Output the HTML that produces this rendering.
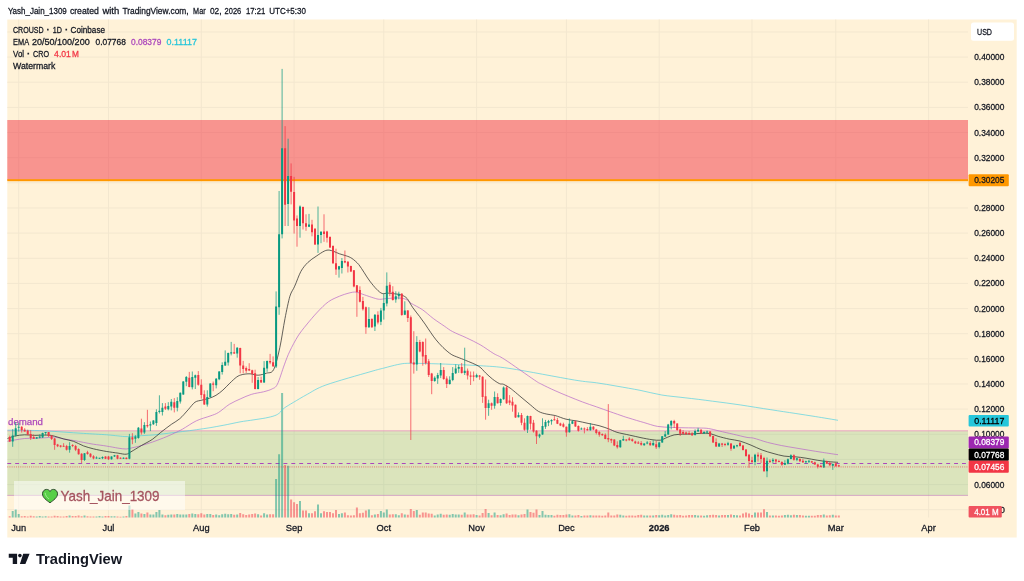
<!DOCTYPE html>
<html lang="en"><head><meta charset="utf-8"><title>CROUSD chart</title>
<style>html,body{margin:0;padding:0;background:#fff;overflow:hidden}svg{display:block}</style>
</head><body>
<svg width="1024" height="581" viewBox="0 0 1024 581" font-family="'Liberation Sans', sans-serif">
<rect x="0" y="0" width="1024" height="581" fill="#ffffff"/>
<rect x="7.3" y="19.5" width="1009.4000000000001" height="518.0" fill="#fff2d8"/>
<path d="M7.3 32.0H968 M7.3 57.1H968 M7.3 82.2H968 M7.3 107.4H968 M7.3 132.5H968 M7.3 157.7H968 M7.3 182.8H968 M7.3 208.0H968 M7.3 233.1H968 M7.3 258.3H968 M7.3 283.4H968 M7.3 308.6H968 M7.3 333.7H968 M7.3 358.8H968 M7.3 384.0H968 M7.3 409.1H968 M7.3 434.3H968 M7.3 459.4H968 M7.3 484.6H968 M7.3 509.7H968 M18.7 19.5V517.5 M108.5 19.5V517.5 M201.3 19.5V517.5 M294.1 19.5V517.5 M383.8 19.5V517.5 M476.6 19.5V517.5 M566.4 19.5V517.5 M659.2 19.5V517.5 M752.0 19.5V517.5 M835.8 19.5V517.5 M928.6 19.5V517.5" stroke="#f3e7cf" stroke-width="1" fill="none"/>
<rect x="7.3" y="120.0" width="960.7" height="60.3" fill="#f23645" fill-opacity="0.5"/>
<rect x="7.3" y="179.2" width="960.7" height="2" fill="#ff9800"/>
<rect x="7.3" y="430.7" width="960.7" height="64.7" fill="#4caf50" fill-opacity="0.2"/>
<path d="M7.3 430.7H968" stroke="#e89cc0" stroke-opacity="0.6" stroke-width="1.4" fill="none"/>
<path d="M7.3 495.4H968" stroke="#c47ac0" stroke-opacity="0.6" stroke-width="1" fill="none"/>
<path d="M7.3 463.5H968" stroke="#ab47bc" stroke-width="1.15" stroke-dasharray="3.9 3.99" fill="none"/>
<text x="8" y="425.3" font-size="9.6" fill="#ab47bc" stroke="#ab47bc" stroke-width="0.25" textLength="35" lengthAdjust="spacingAndGlyphs">demand</text>
<path d="M11.7 517.5V511.0H13.7V517.5ZM14.7 517.5V509.0H16.7V517.5ZM17.7 517.5V514.0H19.7V517.5ZM35.7 517.5V516.6H37.7V517.5ZM38.7 517.5V516.1H40.7V517.5ZM41.6 517.5V516.5H43.6V517.5ZM44.6 517.5V516.3H46.6V517.5ZM68.6 517.5V515.4H70.6V517.5ZM83.5 517.5V515.6H85.5V517.5ZM95.5 517.5V516.4H97.5V517.5ZM98.5 517.5V516.0H100.5V517.5ZM101.5 517.5V516.5H103.5V517.5ZM110.5 517.5V516.3H112.5V517.5ZM113.5 517.5V516.2H115.5V517.5ZM122.5 517.5V516.5H124.5V517.5ZM128.4 517.5V505.5H130.4V517.5ZM134.4 517.5V513.5H136.4V517.5ZM137.4 517.5V512.0H139.4V517.5ZM143.4 517.5V514.0H145.4V517.5ZM149.4 517.5V514.5H151.4V517.5ZM152.4 517.5V514.5H154.4V517.5ZM155.4 517.5V512.0H157.4V517.5ZM158.4 517.5V510.0H160.4V517.5ZM161.4 517.5V514.5H163.4V517.5ZM167.3 517.5V514.8H169.3V517.5ZM170.3 517.5V514.5H172.3V517.5ZM176.3 517.5V513.9H178.3V517.5ZM179.3 517.5V514.4H181.3V517.5ZM182.3 517.5V514.5H184.3V517.5ZM185.3 517.5V514.6H187.3V517.5ZM191.3 517.5V513.4H193.3V517.5ZM194.3 517.5V514.0H196.3V517.5ZM206.3 517.5V514.0H208.3V517.5ZM209.3 517.5V513.9H211.3V517.5ZM215.2 517.5V514.6H217.2V517.5ZM218.2 517.5V515.2H220.2V517.5ZM221.2 517.5V514.2H223.2V517.5ZM224.2 517.5V513.8H226.2V517.5ZM227.2 517.5V514.3H229.2V517.5ZM230.2 517.5V513.9H232.2V517.5ZM236.2 517.5V514.4H238.2V517.5ZM257.1 517.5V514.2H259.1V517.5ZM263.1 517.5V513.2H265.1V517.5ZM266.1 517.5V514.4H268.1V517.5ZM275.1 517.5V479.0H277.1V517.5ZM278.1 517.5V454.2H280.1V517.5ZM281.1 517.5V393.1H283.1V517.5ZM287.1 517.5V465.8H289.1V517.5ZM299.0 517.5V501.1H301.0V517.5ZM308.0 517.5V513.2H310.0V517.5ZM317.0 517.5V504.6H319.0V517.5ZM320.0 517.5V513.2H322.0V517.5ZM338.0 517.5V514.0H340.0V517.5ZM340.9 517.5V513.2H342.9V517.5ZM367.9 517.5V509.5H369.9V517.5ZM373.9 517.5V514.5H375.9V517.5ZM379.9 517.5V511.0H381.9V517.5ZM382.8 517.5V512.5H384.8V517.5ZM385.8 517.5V509.5H387.8V517.5ZM394.8 517.5V514.3H396.8V517.5ZM397.8 517.5V515.3H399.8V517.5ZM403.8 517.5V514.5H405.8V517.5ZM415.8 517.5V510.1H417.8V517.5ZM433.7 517.5V515.4H435.7V517.5ZM436.7 517.5V514.6H438.7V517.5ZM439.7 517.5V513.7H441.7V517.5ZM448.7 517.5V514.8H450.7V517.5ZM451.7 517.5V513.9H453.7V517.5ZM454.7 517.5V514.4H456.7V517.5ZM457.7 517.5V514.5H459.7V517.5ZM463.7 517.5V512.5H465.7V517.5ZM475.6 517.5V514.9H477.6V517.5ZM487.6 517.5V513.0H489.6V517.5ZM493.6 517.5V512.5H495.6V517.5ZM499.6 517.5V515.2H501.6V517.5ZM502.6 517.5V514.3H504.6V517.5ZM517.5 517.5V515.3H519.5V517.5ZM526.5 517.5V509.5H528.5V517.5ZM538.5 517.5V515.1H540.5V517.5ZM541.5 517.5V511.0H543.5V517.5ZM544.5 517.5V514.8H546.5V517.5ZM547.5 517.5V515.0H549.5V517.5ZM550.5 517.5V515.0H552.5V517.5ZM568.4 517.5V514.3H570.4V517.5ZM571.4 517.5V515.4H573.4V517.5ZM580.4 517.5V515.9H582.4V517.5ZM589.4 517.5V515.2H591.4V517.5ZM619.3 517.5V514.8H621.3V517.5ZM622.3 517.5V515.5H624.3V517.5ZM643.2 517.5V515.5H645.2V517.5ZM646.2 517.5V515.4H648.2V517.5ZM652.2 517.5V515.5H654.2V517.5ZM658.2 517.5V515.2H660.2V517.5ZM661.2 517.5V514.7H663.2V517.5ZM664.2 517.5V515.4H666.2V517.5ZM667.2 517.5V515.0H669.2V517.5ZM670.2 517.5V514.3H672.2V517.5ZM694.1 517.5V514.9H696.1V517.5ZM697.1 517.5V515.5H699.1V517.5ZM703.1 517.5V515.7H705.1V517.5ZM706.1 517.5V515.2H708.1V517.5ZM718.1 517.5V515.5H720.1V517.5ZM727.0 517.5V515.0H729.0V517.5ZM733.0 517.5V515.1H735.0V517.5ZM736.0 517.5V515.3H738.0V517.5ZM754.0 517.5V512.5H756.0V517.5ZM766.0 517.5V511.9H768.0V517.5ZM771.9 517.5V515.6H773.9V517.5ZM783.9 517.5V515.0H785.9V517.5ZM786.9 517.5V514.7H788.9V517.5ZM789.9 517.5V515.3H791.9V517.5ZM795.9 517.5V514.9H797.9V517.5ZM804.9 517.5V515.7H806.9V517.5ZM807.9 517.5V515.7H809.9V517.5ZM822.8 517.5V514.4H824.8V517.5ZM831.8 517.5V514.8H833.8V517.5Z" fill="#089981" fill-opacity="0.5"/>
<path d="M8.7 517.5V516.2H10.7V517.5ZM20.7 517.5V516.3H22.7V517.5ZM23.7 517.5V516.0H25.7V517.5ZM26.7 517.5V516.5H28.7V517.5ZM29.7 517.5V515.8H31.7V517.5ZM32.7 517.5V516.2H34.7V517.5ZM47.6 517.5V516.5H49.6V517.5ZM50.6 517.5V516.5H52.6V517.5ZM53.6 517.5V515.8H55.6V517.5ZM56.6 517.5V515.9H58.6V517.5ZM59.6 517.5V516.6H61.6V517.5ZM62.6 517.5V516.4H64.6V517.5ZM65.6 517.5V516.0H67.6V517.5ZM71.6 517.5V516.1H73.6V517.5ZM74.6 517.5V516.1H76.6V517.5ZM77.6 517.5V515.6H79.6V517.5ZM80.6 517.5V516.3H82.6V517.5ZM86.5 517.5V516.3H88.5V517.5ZM89.5 517.5V516.4H91.5V517.5ZM92.5 517.5V516.5H94.5V517.5ZM104.5 517.5V516.1H106.5V517.5ZM107.5 517.5V516.0H109.5V517.5ZM116.5 517.5V516.5H118.5V517.5ZM119.5 517.5V516.7H121.5V517.5ZM125.4 517.5V516.1H127.4V517.5ZM131.4 517.5V509.0H133.4V517.5ZM140.4 517.5V513.5H142.4V517.5ZM146.4 517.5V512.5H148.4V517.5ZM164.4 517.5V515.2H166.4V517.5ZM173.3 517.5V514.4H175.3V517.5ZM188.3 517.5V514.0H190.3V517.5ZM197.3 517.5V514.3H199.3V517.5ZM200.3 517.5V513.2H202.3V517.5ZM203.3 517.5V514.5H205.3V517.5ZM212.2 517.5V515.0H214.2V517.5ZM233.2 517.5V514.8H235.2V517.5ZM239.2 517.5V513.1H241.2V517.5ZM242.2 517.5V514.3H244.2V517.5ZM245.2 517.5V515.1H247.2V517.5ZM248.2 517.5V514.6H250.2V517.5ZM251.2 517.5V513.9H253.2V517.5ZM254.1 517.5V513.6H256.1V517.5ZM260.1 517.5V515.5H262.1V517.5ZM269.1 517.5V514.2H271.1V517.5ZM272.1 517.5V514.3H274.1V517.5ZM284.1 517.5V465.1H286.1V517.5ZM290.1 517.5V499.5H292.1V517.5ZM293.1 517.5V502.3H295.1V517.5ZM296.0 517.5V503.9H298.0V517.5ZM302.0 517.5V510.5H304.0V517.5ZM305.0 517.5V510.5H307.0V517.5ZM311.0 517.5V513.2H313.0V517.5ZM314.0 517.5V511.2H316.0V517.5ZM323.0 517.5V511.2H325.0V517.5ZM326.0 517.5V512.0H328.0V517.5ZM329.0 517.5V512.0H331.0V517.5ZM332.0 517.5V513.2H334.0V517.5ZM335.0 517.5V510.0H337.0V517.5ZM343.9 517.5V512.5H345.9V517.5ZM346.9 517.5V515.2H348.9V517.5ZM349.9 517.5V515.5H351.9V517.5ZM352.9 517.5V515.2H354.9V517.5ZM355.9 517.5V507.5H357.9V517.5ZM358.9 517.5V513.2H360.9V517.5ZM361.9 517.5V512.8H363.9V517.5ZM364.9 517.5V510.5H366.9V517.5ZM370.9 517.5V515.2H372.9V517.5ZM376.9 517.5V514.0H378.9V517.5ZM388.8 517.5V514.4H390.8V517.5ZM391.8 517.5V514.3H393.8V517.5ZM400.8 517.5V513.3H402.8V517.5ZM406.8 517.5V514.8H408.8V517.5ZM409.8 517.5V508.9H411.8V517.5ZM412.8 517.5V511.0H414.8V517.5ZM418.8 517.5V514.8H420.8V517.5ZM421.8 517.5V512.5H423.8V517.5ZM424.7 517.5V512.5H426.7V517.5ZM427.7 517.5V513.5H429.7V517.5ZM430.7 517.5V513.7H432.7V517.5ZM442.7 517.5V514.7H444.7V517.5ZM445.7 517.5V514.5H447.7V517.5ZM460.7 517.5V514.8H462.7V517.5ZM466.6 517.5V514.6H468.6V517.5ZM469.6 517.5V514.4H471.6V517.5ZM472.6 517.5V514.3H474.6V517.5ZM478.6 517.5V515.5H480.6V517.5ZM481.6 517.5V513.0H483.6V517.5ZM484.6 517.5V508.9H486.6V517.5ZM490.6 517.5V515.2H492.6V517.5ZM496.6 517.5V514.9H498.6V517.5ZM505.6 517.5V513.6H507.6V517.5ZM508.6 517.5V514.9H510.6V517.5ZM511.5 517.5V514.6H513.5V517.5ZM514.5 517.5V514.4H516.5V517.5ZM520.5 517.5V514.4H522.5V517.5ZM523.5 517.5V514.0H525.5V517.5ZM529.5 517.5V511.9H531.5V517.5ZM532.5 517.5V512.8H534.5V517.5ZM535.5 517.5V509.5H537.5V517.5ZM553.4 517.5V515.7H555.4V517.5ZM556.4 517.5V514.7H558.4V517.5ZM559.4 517.5V515.1H561.4V517.5ZM562.4 517.5V514.9H564.4V517.5ZM565.4 517.5V514.4H567.4V517.5ZM574.4 517.5V515.4H576.4V517.5ZM577.4 517.5V514.9H579.4V517.5ZM583.4 517.5V515.5H585.4V517.5ZM586.4 517.5V515.6H588.4V517.5ZM592.4 517.5V515.4H594.4V517.5ZM595.3 517.5V515.5H597.3V517.5ZM598.3 517.5V515.6H600.3V517.5ZM601.3 517.5V515.8H603.3V517.5ZM604.3 517.5V515.5H606.3V517.5ZM607.3 517.5V512.5H609.3V517.5ZM610.3 517.5V515.4H612.3V517.5ZM613.3 517.5V515.4H615.3V517.5ZM616.3 517.5V514.6H618.3V517.5ZM625.3 517.5V515.7H627.3V517.5ZM628.3 517.5V515.5H630.3V517.5ZM631.3 517.5V515.5H633.3V517.5ZM634.3 517.5V515.7H636.3V517.5ZM637.3 517.5V515.1H639.3V517.5ZM640.2 517.5V514.8H642.2V517.5ZM649.2 517.5V515.6H651.2V517.5ZM655.2 517.5V515.0H657.2V517.5ZM673.2 517.5V514.8H675.2V517.5ZM676.2 517.5V515.2H678.2V517.5ZM679.2 517.5V514.9H681.2V517.5ZM682.1 517.5V515.7H684.1V517.5ZM685.1 517.5V515.4H687.1V517.5ZM688.1 517.5V514.9H690.1V517.5ZM691.1 517.5V515.0H693.1V517.5ZM700.1 517.5V515.4H702.1V517.5ZM709.1 517.5V515.1H711.1V517.5ZM712.1 517.5V514.7H714.1V517.5ZM715.1 517.5V514.9H717.1V517.5ZM721.1 517.5V515.0H723.1V517.5ZM724.0 517.5V515.0H726.0V517.5ZM730.0 517.5V514.6H732.0V517.5ZM739.0 517.5V515.5H741.0V517.5ZM742.0 517.5V513.5H744.0V517.5ZM745.0 517.5V512.5H747.0V517.5ZM748.0 517.5V513.5H750.0V517.5ZM751.0 517.5V515.1H753.0V517.5ZM757.0 517.5V512.5H759.0V517.5ZM760.0 517.5V512.5H762.0V517.5ZM763.0 517.5V509.2H765.0V517.5ZM768.9 517.5V515.5H770.9V517.5ZM774.9 517.5V515.6H776.9V517.5ZM777.9 517.5V515.7H779.9V517.5ZM780.9 517.5V515.5H782.9V517.5ZM792.9 517.5V514.7H794.9V517.5ZM798.9 517.5V514.9H800.9V517.5ZM801.9 517.5V515.4H803.9V517.5ZM810.8 517.5V515.8H812.8V517.5ZM813.8 517.5V515.7H815.8V517.5ZM816.8 517.5V515.1H818.8V517.5ZM819.8 517.5V515.1H821.8V517.5ZM825.8 517.5V515.4H827.8V517.5ZM828.8 517.5V515.2H830.8V517.5ZM834.8 517.5V515.6H836.8V517.5ZM837.8 517.5V515.4H839.8V517.5Z" fill="#f23645" fill-opacity="0.5"/>
<path d="M7.5 430.2C10.2 430.2 18.7 430.1 24.6 430.3C30.5 430.4 38.0 430.5 44.3 430.8C50.5 431.1 57.6 431.7 63.9 432.1C70.2 432.5 76.7 433.0 83.5 433.4C90.3 433.8 101.1 434.4 106.6 434.8C112.1 435.2 114.6 435.6 117.9 435.9C121.2 436.2 123.8 436.7 127.5 436.6C131.3 436.6 136.9 435.9 141.3 435.7C145.7 435.4 150.7 435.2 155.1 434.8C159.5 434.4 164.4 433.7 168.8 433.2C173.2 432.7 178.2 432.1 182.6 431.5C187.0 431.0 192.0 430.4 196.4 429.7C200.8 429.1 205.7 428.4 210.1 427.7C214.5 426.9 219.1 426.1 223.9 425.2C228.7 424.3 235.2 422.8 240.0 421.9C244.8 421.0 249.8 420.5 253.9 419.8C258.0 419.2 262.2 418.6 265.5 418.0C268.9 417.3 272.6 416.5 274.8 415.6C277.1 414.8 278.0 414.1 279.5 412.9C281.0 411.7 281.9 409.9 284.1 408.2C286.3 406.5 289.7 404.6 293.4 402.4C297.1 400.2 302.1 397.1 307.3 394.3C312.5 391.5 315.9 388.6 325.9 385.0C335.9 381.4 360.7 374.5 370.0 371.8C379.3 369.1 379.4 369.2 383.8 368.1C388.2 366.9 393.8 365.4 397.5 364.6C401.3 363.9 402.8 363.4 407.2 363.3C411.6 363.1 417.8 363.4 425.1 363.5C432.3 363.7 443.8 364.0 452.6 364.4C461.4 364.7 470.9 365.1 480.1 365.7C489.3 366.4 494.9 366.2 510.0 368.5C525.1 370.8 560.5 377.7 574.3 380.0C588.2 382.3 589.5 381.8 596.4 382.8C603.2 383.7 610.0 385.0 617.0 386.2C624.0 387.4 632.9 388.9 640.0 390.3C647.1 391.7 654.5 393.8 661.7 395.0C668.9 396.2 676.9 396.8 685.1 397.8C693.2 398.7 703.8 400.0 712.6 401.2C721.4 402.3 730.8 403.5 740.1 404.9C749.4 406.3 762.0 408.4 770.8 409.7C779.6 411.1 787.9 412.3 795.1 413.4C802.2 414.5 808.8 415.5 815.7 416.6C822.6 417.7 834.4 419.7 838.0 420.3" stroke="#4dd0e1" stroke-width="0.85" stroke-opacity="0.8" fill="none" stroke-linejoin="round"/>
<path d="M7.5 441.4C8.6 441.2 12.1 440.4 14.8 440.0C17.6 439.5 21.5 438.8 24.6 438.5C27.8 438.2 31.0 438.4 34.4 438.3C37.9 438.2 43.1 437.9 46.2 437.7C49.4 437.5 51.2 436.8 54.1 437.0C56.9 437.2 60.7 438.4 63.9 439.0C67.0 439.5 70.6 439.9 73.7 440.5C76.8 441.0 80.4 441.8 83.5 442.4C86.6 443.0 89.6 443.6 93.3 444.2C97.0 444.8 102.7 445.4 106.6 446.1C110.6 446.7 114.8 447.6 117.9 448.1C121.0 448.5 123.7 449.1 126.2 449.0C128.6 448.9 130.6 448.2 133.0 447.6C135.5 447.1 138.2 446.5 141.3 445.6C144.4 444.7 148.8 443.3 152.3 442.1C155.8 440.9 159.8 439.4 163.3 438.0C166.9 436.6 171.3 434.6 174.3 433.2C177.4 431.8 179.1 431.0 182.6 429.1C186.1 427.1 192.0 422.9 196.4 420.8C200.8 418.7 206.6 417.3 210.1 416.0C213.7 414.7 215.3 414.4 218.4 412.5C221.5 410.7 225.8 406.5 229.4 404.3C233.0 402.1 237.3 400.3 240.8 398.7C244.3 397.1 247.7 395.5 251.3 394.4C255.0 393.2 260.3 392.6 263.6 391.8C266.9 390.9 269.7 390.2 271.9 389.0C274.1 387.8 275.4 388.1 277.4 384.2C279.4 380.3 282.3 370.2 284.3 364.9C286.2 359.6 287.6 355.8 289.8 351.2C292.0 346.5 295.4 340.2 298.0 336.0C300.7 331.8 303.2 328.8 306.3 325.0C309.4 321.2 313.9 315.8 317.5 312.0C321.0 308.3 324.9 304.2 328.5 301.7C332.0 299.2 336.2 297.6 339.5 296.2C342.8 294.8 346.5 293.7 349.1 293.0C351.8 292.4 353.6 291.8 356.0 292.1C358.4 292.4 361.4 293.9 364.3 294.8C367.1 295.8 371.5 297.3 373.9 298.0C376.3 298.7 377.5 299.2 379.5 299.3C381.5 299.4 383.6 298.8 386.5 298.6C389.4 298.4 394.4 297.8 397.5 297.9C400.6 298.0 403.6 298.4 405.8 299.3C408.0 300.2 408.7 301.8 411.3 303.4C413.9 305.1 418.8 307.2 422.3 309.6C425.8 312.0 429.8 315.9 433.3 318.5C436.9 321.2 441.3 324.0 444.3 326.1C447.4 328.2 449.1 329.8 452.6 331.6C456.1 333.5 462.0 335.7 466.4 337.8C470.8 339.9 475.7 342.2 480.1 344.7C484.5 347.2 489.9 351.3 493.9 353.7C497.9 356.0 498.4 355.4 504.9 359.6C511.4 363.8 528.6 376.1 534.4 380.0C540.2 383.9 538.0 382.4 541.3 384.1C544.6 385.8 550.7 388.8 555.1 390.7C559.5 392.7 564.4 394.7 568.8 396.5C573.2 398.3 578.2 400.4 582.6 402.0C587.0 403.7 592.0 405.3 596.4 406.8C600.8 408.4 605.7 410.1 610.1 411.7C614.5 413.2 620.7 415.4 623.9 416.5C627.1 417.6 626.8 417.4 630.0 418.4C633.2 419.4 639.4 421.3 643.8 422.5C648.2 423.8 653.1 425.6 657.5 426.4C661.9 427.2 666.9 427.1 671.3 427.4C675.7 427.6 680.7 427.7 685.1 427.8C689.5 427.9 695.1 427.9 698.8 428.0C702.6 428.1 705.2 428.0 708.5 428.5C711.8 428.9 715.5 430.1 719.5 431.1C723.4 432.0 728.8 433.2 733.2 434.2C737.7 435.2 743.7 436.8 747.0 437.4C750.3 438.0 750.5 437.4 753.8 438.2C757.0 439.0 763.1 441.2 767.5 442.4C771.9 443.5 776.9 444.6 781.3 445.5C785.7 446.4 790.7 447.1 795.1 447.9C799.5 448.6 804.4 449.5 808.8 450.2C813.2 450.9 817.9 451.7 822.6 452.4C827.3 453.1 835.6 454.4 838.0 454.7" stroke="#ba68c8" stroke-width="0.85" stroke-opacity="0.85" fill="none" stroke-linejoin="round"/>
<path d="M7.5 438.5C8.6 438.1 12.1 436.6 14.8 436.0C17.6 435.4 21.5 434.9 24.6 434.8C27.8 434.7 31.3 435.3 34.4 435.4C37.6 435.4 41.4 435.0 44.3 435.1C47.1 435.1 49.0 434.9 52.1 435.6C55.2 436.2 60.4 438.0 63.9 439.0C67.3 439.9 70.6 440.3 73.7 441.4C76.8 442.5 80.4 444.7 83.5 445.9C86.6 447.0 89.6 447.9 93.3 448.8C97.0 449.7 102.7 450.8 106.6 451.5C110.6 452.1 114.8 452.7 117.9 453.1C121.0 453.6 124.1 454.5 126.2 454.2C128.2 454.0 128.6 453.2 131.0 451.8C133.4 450.4 137.9 447.6 141.3 445.6C144.7 443.6 149.2 441.5 152.3 439.4C155.4 437.3 157.5 434.9 160.6 432.5C163.7 430.1 168.5 426.4 171.6 424.2C174.7 422.0 177.2 421.0 179.8 418.7C182.5 416.4 185.7 412.4 188.1 409.8C190.5 407.1 192.8 403.8 195.0 402.2C197.2 400.7 199.6 400.8 201.9 400.1C204.1 399.5 206.9 399.1 209.1 398.3C211.4 397.6 213.8 396.6 216.0 395.3C218.2 394.0 220.7 392.0 222.9 390.1C225.1 388.1 227.6 385.3 229.8 383.2C232.0 381.1 234.7 378.4 236.7 377.0C238.6 375.6 240.0 375.2 242.2 374.6C244.3 374.1 247.5 373.7 250.0 373.8C252.6 373.9 255.5 375.3 258.1 375.2C260.7 375.1 263.9 374.1 266.4 373.2C268.8 372.3 271.4 373.8 273.6 369.7C275.7 365.7 278.0 355.9 279.8 347.7C281.6 339.5 283.4 326.8 285.0 318.5C286.6 310.3 288.4 301.4 289.9 296.2C291.5 291.0 293.0 290.2 294.7 286.2C296.5 282.3 298.8 275.2 300.9 271.4C303.0 267.6 305.4 264.9 307.8 262.5C310.2 260.1 313.4 258.1 316.1 256.3C318.7 254.5 322.2 252.1 324.3 251.1C326.4 250.1 327.6 250.0 329.2 250.1C330.7 250.2 332.3 250.9 334.0 251.5C335.6 252.1 337.5 253.1 339.5 253.8C341.5 254.5 344.4 255.2 346.4 255.9C348.3 256.6 349.9 257.0 351.9 258.4C353.9 259.8 356.8 262.2 358.8 264.6C360.7 266.9 362.5 270.2 364.3 272.8C366.0 275.5 367.8 278.4 369.8 281.1C371.8 283.7 374.7 287.4 376.7 289.3C378.6 291.3 380.4 292.9 382.2 293.5C383.9 294.1 385.8 293.0 387.8 293.1C389.8 293.1 392.6 293.4 394.8 293.8C397.0 294.1 399.7 294.4 401.7 295.1C403.6 295.9 405.4 296.6 407.2 298.6C408.9 300.6 410.7 304.7 412.7 307.5C414.7 310.4 417.6 313.8 419.6 316.5C421.5 319.1 423.3 321.5 425.1 324.1C426.8 326.6 428.8 329.8 430.6 332.3C432.3 334.8 434.1 337.5 436.1 339.9C438.1 342.3 440.5 345.1 443.0 347.5C445.4 349.8 448.8 352.8 451.2 354.3C453.6 355.9 455.8 356.4 458.1 357.4C460.4 358.3 462.4 359.0 465.7 360.4C469.0 361.8 475.6 364.3 478.8 366.3C481.9 368.3 483.4 370.8 485.6 372.9C487.8 374.9 490.3 377.4 492.5 379.1C494.7 380.8 497.6 382.8 499.4 383.6C501.2 384.5 501.8 383.6 503.5 384.3C505.2 385.0 508.4 387.0 510.0 388.0C511.6 389.1 511.8 389.4 513.8 391.0C515.7 392.6 519.4 395.7 522.0 397.9C524.7 400.1 527.6 402.6 530.3 404.8C532.9 406.9 535.9 409.9 538.5 411.4C541.2 412.9 544.2 413.5 546.8 414.1C549.4 414.8 552.0 414.7 555.1 415.5C558.1 416.3 562.6 418.4 566.1 419.2C569.6 420.1 573.6 420.4 577.1 421.0C580.6 421.7 584.6 422.6 588.1 423.4C591.6 424.1 595.8 424.8 599.1 425.7C602.4 426.6 605.9 427.8 608.8 428.9C611.6 429.9 613.7 431.3 617.0 432.3C620.3 433.3 625.6 434.2 629.4 435.1C633.2 435.9 637.4 436.9 641.0 437.7C644.6 438.4 648.9 439.3 652.0 439.7C655.1 440.1 657.9 440.5 660.3 440.2C662.7 439.8 665.0 438.2 667.2 437.4C669.4 436.6 671.6 435.4 674.1 434.9C676.5 434.4 679.4 434.4 682.3 434.2C685.2 434.1 688.9 434.1 691.9 434.0C695.0 433.8 698.7 433.3 701.6 433.3C704.4 433.2 707.2 433.1 709.8 433.5C712.5 434.0 715.0 435.4 718.1 436.3C721.2 437.2 725.6 438.3 729.1 439.1C732.6 439.8 736.6 440.1 740.1 441.1C743.7 442.1 747.6 443.8 751.1 445.2C754.7 446.7 758.6 448.7 762.1 450.0C765.6 451.3 769.5 452.4 773.0 453.4C776.6 454.3 780.5 455.6 784.1 456.1C787.6 456.7 791.5 456.5 795.1 456.8C798.6 457.1 802.6 457.6 806.1 458.2C809.6 458.7 813.6 459.7 817.1 460.2C820.6 460.8 824.8 461.3 828.1 461.6C831.5 462.0 836.4 462.2 838.0 462.3" stroke="#2a2a2a" stroke-width="0.9" stroke-opacity="0.82" fill="none" stroke-linejoin="round"/>
<path d="M12.7 429.2V446.8M15.7 422.3V436.5M18.7 422.8V431.6M36.7 437.0V439.0M39.7 434.4V438.3M42.6 432.6V438.0M45.6 432.1V435.1M69.6 442.2V452.7M84.5 453.2V460.9M96.5 456.4V458.7M99.5 457.9V458.9M102.5 456.4V459.1M111.5 456.3V459.6M114.5 454.9V456.9M123.5 457.4V458.9M129.4 433.9V459.3M135.4 435.2V442.8M138.4 427.0V438.7M144.4 422.2V433.9M150.4 421.5V431.1M153.4 420.1V424.9M156.4 409.3V425.9M159.4 395.3V413.5M162.4 403.1V415.5M168.3 402.2V410.4M171.3 399.0V410.4M177.3 397.2V411.4M180.3 392.5V403.6M183.3 381.1V394.9M186.3 376.0V386.2M192.3 371.5V389.4M195.3 374.6V389.0M207.3 390.3V406.6M210.3 383.2V397.6M216.2 378.0V388.4M219.2 371.1V380.2M222.2 362.3V374.6M225.2 350.4V366.0M228.2 352.6V365.6M231.2 341.9V355.4M237.2 347.1V357.7M258.1 377.0V389.4M264.1 361.1V382.8M267.1 360.5V371.8M276.1 291.4V368.0M279.1 191.0V314.8M282.1 68.9V238.4M288.1 138.7V226.0M300.0 205.4V237.7M309.0 213.9V227.1M318.0 206.5V252.9M321.0 231.2V243.2M339.0 265.9V277.6M341.9 258.0V273.5M368.9 307.2V327.9M374.9 314.1V331.0M380.9 307.9V325.1M383.8 293.4V319.6M386.8 272.4V306.4M395.8 291.3V302.7M398.8 291.7V299.3M404.8 301.3V315.1M416.8 336.2V370.8M434.7 376.3V381.8M437.7 372.9V383.9M440.7 363.0V378.1M449.7 376.3V384.6M452.7 367.1V381.2M455.7 364.4V374.0M458.7 364.9V372.9M464.7 347.7V375.0M476.6 373.6V377.7M488.6 399.7V415.8M494.6 391.5V408.7M500.6 398.4V405.7M503.6 386.4V399.7M518.5 412.4V417.4M527.5 415.5V433.0M539.5 433.7V438.1M542.5 418.3V434.8M545.5 419.9V428.9M548.5 419.9V426.1M551.5 419.2V424.7M569.4 418.5V432.6M572.4 420.2V424.1M581.4 427.5V429.6M590.4 423.0V430.7M620.3 439.9V447.7M623.3 435.8V440.8M644.2 443.2V445.7M647.2 441.1V444.3M653.2 440.2V445.7M659.2 441.8V448.4M662.2 436.0V442.9M665.2 431.1V437.0M668.2 423.9V434.9M671.2 420.1V429.4M695.1 429.4V435.6M698.1 427.8V431.9M704.1 431.1V433.8M707.1 430.5V433.3M719.1 442.9V447.0M728.0 441.8V445.7M734.0 445.2V448.7M737.0 444.8V447.3M755.0 453.8V465.3M767.0 457.5V477.2M772.9 458.2V463.0M784.9 460.2V465.1M787.9 458.5V464.4M790.9 454.3V459.3M796.9 457.9V461.2M805.9 460.7V463.7M808.9 460.2V463.0M823.8 458.5V467.8M832.8 463.4V469.9" stroke="#089981" stroke-width="0.9" stroke-opacity="0.8" fill="none"/>
<path d="M9.7 435.6V441.9M21.7 426.2V432.6M24.7 428.2V431.6M27.7 429.7V435.1M30.7 430.2V440.0M33.7 434.4V439.0M48.6 432.1V437.0M51.6 435.1V440.0M54.6 438.0V449.8M57.6 443.9V447.1M60.6 445.2V447.5M63.6 443.2V446.9M66.6 444.9V450.5M72.6 444.2V447.1M75.6 444.9V451.1M78.6 448.3V454.7M81.6 453.2V463.0M87.5 450.8V454.7M90.5 453.2V457.6M93.5 455.2V459.3M105.5 456.3V459.1M108.5 455.9V460.0M117.5 454.9V459.3M120.5 457.4V458.9M126.4 457.4V459.3M132.4 433.2V444.2M141.4 418.7V434.6M147.4 409.8V427.7M165.4 403.1V410.0M174.3 398.1V412.4M189.3 371.9V387.3M198.3 371.1V385.7M201.3 379.3V398.6M204.3 390.3V404.9M213.2 381.5V391.2M234.2 343.9V354.0M240.2 347.7V373.3M243.2 360.9V373.3M246.2 366.4V372.9M249.2 363.2V371.1M252.2 369.7V382.8M255.1 369.7V389.4M261.1 376.6V382.8M270.1 353.9V364.2M273.1 356.4V367.0M285.1 126.1V226.0M291.1 163.4V204.4M294.1 176.9V233.6M297.0 215.4V246.7M303.0 206.5V229.5M306.0 214.3V230.8M312.0 219.8V236.3M315.0 228.1V245.0M324.0 214.3V241.8M327.0 230.8V242.5M330.0 236.3V248.0M333.0 245.3V263.9M336.0 248.7V274.9M344.9 250.5V263.2M347.9 261.1V272.5M350.9 265.7V272.1M353.9 270.1V287.3M356.9 285.2V316.8M359.9 286.3V302.4M362.9 296.9V310.6M365.9 306.5V333.8M371.9 318.2V327.9M377.9 311.3V324.4M389.8 282.1V296.2M392.8 286.2V300.6M401.8 293.1V315.8M407.8 310.0V322.0M410.8 315.5V440.0M413.8 331.2V373.6M419.8 339.9V352.3M422.8 341.3V365.7M425.7 338.5V364.6M428.7 359.1V377.0M431.7 372.9V394.2M443.7 367.1V379.8M446.7 376.3V388.0M461.7 363.0V373.6M467.6 368.5V379.5M470.6 371.5V385.0M473.6 371.5V381.2M479.6 375.0V379.8M482.6 376.3V402.9M485.6 379.5V419.7M491.6 402.5V409.8M497.6 393.3V403.5M506.6 385.3V403.9M509.6 395.1V405.1M512.5 397.2V411.7M515.5 404.5V417.9M521.5 413.0V425.2M524.5 418.3V430.7M530.5 415.8V429.6M533.5 419.9V432.6M536.5 430.2V444.0M554.4 416.1V420.6M557.4 417.9V424.1M560.4 422.7V426.1M563.4 422.7V427.5M566.4 426.5V436.7M575.4 420.6V426.8M578.4 425.4V431.6M584.4 427.5V433.4M587.4 427.1V430.7M593.4 426.1V430.2M596.3 428.9V434.4M599.3 431.2V436.7M602.3 433.4V435.8M605.3 433.4V439.2M608.3 404.1V442.2M611.3 438.5V443.1M614.3 439.2V446.1M617.3 441.3V448.6M626.3 439.2V441.3M629.3 437.1V440.6M632.3 438.4V441.8M635.3 440.7V443.9M638.3 441.1V443.9M641.2 441.1V445.7M650.2 441.1V445.7M656.2 440.7V449.0M674.2 419.8V428.0M677.2 423.2V430.8M680.2 428.7V436.0M683.1 430.1V434.6M686.1 431.5V434.6M689.1 431.1V434.9M692.1 432.2V436.0M701.1 429.1V433.8M710.1 431.1V437.0M713.1 435.6V442.9M716.1 438.4V447.0M722.1 442.9V447.0M725.0 442.9V446.2M731.0 443.2V450.8M740.0 442.4V446.6M743.0 445.1V450.5M746.0 449.2V456.8M749.0 454.1V467.8M752.0 456.8V463.0M758.0 452.4V461.6M761.0 453.0V463.0M764.0 456.8V471.7M769.9 459.3V463.0M775.9 458.9V463.7M778.9 459.8V462.3M781.9 461.2V465.8M793.9 454.3V460.7M799.9 458.2V462.0M802.9 458.9V463.0M811.8 460.9V463.0M814.8 461.6V464.8M817.8 463.7V468.5M820.8 464.8V467.5M826.8 460.7V464.0M829.8 462.0V466.2M835.8 462.3V466.7M838.8 464.8V466.7" stroke="#f23645" stroke-width="0.9" stroke-opacity="0.8" fill="none"/>
<path d="M11.7 435.6H13.7V441.4H11.7ZM14.7 428.2H16.7V435.6H14.7ZM17.7 426.7H19.7V427.7H17.7ZM35.7 437.3H37.7V438.5H35.7ZM38.7 436.5H40.7V437.7H38.7ZM41.6 433.1H43.6V437.5H41.6ZM44.6 432.0H46.6V433.0H44.6ZM68.6 445.9H70.6V449.8H68.6ZM83.5 453.2H85.5V459.9H83.5ZM95.5 457.5H97.5V458.5H95.5ZM98.5 457.8H100.5V458.8H98.5ZM101.5 457.1H103.5V458.3H101.5ZM110.5 456.6H112.5V459.3H110.5ZM113.5 455.2H115.5V456.6H113.5ZM122.5 457.7H124.5V458.7H122.5ZM128.4 437.3H130.4V458.7H128.4ZM134.4 436.6H136.4V438.7H134.4ZM137.4 427.7H139.4V438.0H137.4ZM143.4 424.9H145.4V432.5H143.4ZM149.4 424.2H151.4V425.6H149.4ZM152.4 420.5H154.4V424.2H152.4ZM155.4 412.1H157.4V423.1H155.4ZM158.4 410.7H160.4V412.1H158.4ZM161.4 407.7H163.4V412.1H161.4ZM167.3 405.9H169.3V409.3H167.3ZM170.3 401.8H172.3V406.6H170.3ZM176.3 401.1H178.3V407.7H176.3ZM179.3 392.8H181.3V401.4H179.3ZM182.3 381.5H184.3V394.5H182.3ZM185.3 377.0H187.3V381.8H185.3ZM191.3 377.0H193.3V387.3H191.3ZM194.3 375.2H196.3V377.7H194.3ZM206.3 396.9H208.3V404.5H206.3ZM209.3 383.5H211.3V396.9H209.3ZM215.2 378.8H217.2V385.2H215.2ZM218.2 371.5H220.2V379.3H218.2ZM221.2 365.0H223.2V371.9H221.2ZM224.2 361.8H226.2V365.6H224.2ZM227.2 352.9H229.2V362.5H227.2ZM230.2 352.2H232.2V353.6H230.2ZM236.2 347.7H238.2V353.6H236.2ZM257.1 380.1H259.1V389.0H257.1ZM263.1 367.7H265.1V382.5H263.1ZM266.1 361.1H268.1V368.4H266.1ZM275.1 306.5H277.1V366.4H275.1ZM278.1 234.3H280.1V307.2H278.1ZM281.1 148.3H283.1V234.3H281.1ZM287.1 176.1H289.1V204.1H287.1ZM299.0 206.5H301.0V226.0H299.0ZM308.0 224.6H310.0V226.7H308.0ZM317.0 235.0H319.0V244.6H317.0ZM320.0 231.8H322.0V235.0H320.0ZM338.0 266.2H340.0V269.4H338.0ZM340.9 261.1H342.9V268.0H340.9ZM367.9 318.9H369.9V327.2H367.9ZM373.9 314.8H375.9V326.5H373.9ZM379.9 310.6H381.9V321.7H379.9ZM382.8 303.1H384.8V310.6H382.8ZM385.8 285.8H387.8V303.4H385.8ZM394.8 296.2H396.8V299.5H394.8ZM397.8 293.8H399.8V296.2H397.8ZM403.8 310.6H405.8V314.7H403.8ZM415.8 342.0H417.8V364.6H415.8ZM433.7 377.7H435.7V380.9H433.7ZM436.7 375.0H438.7V378.4H436.7ZM439.7 370.1H441.7V375.6H439.7ZM448.7 379.8H450.7V383.9H448.7ZM451.7 372.9H453.7V380.1H451.7ZM454.7 368.5H456.7V373.2H454.7ZM457.7 367.1H459.7V368.8H457.7ZM463.7 370.8H465.7V372.9H463.7ZM475.6 375.0H477.6V377.3H475.6ZM487.6 403.2H489.6V408.0H487.6ZM493.6 397.0H495.6V405.7H493.6ZM499.6 399.1H501.6V402.9H499.6ZM502.6 387.4H504.6V399.3H502.6ZM517.5 415.1H519.5V417.2H517.5ZM526.5 416.1H528.5V429.8H526.5ZM538.5 434.4H540.5V436.4H538.5ZM541.5 426.1H543.5V434.4H541.5ZM544.5 422.0H546.5V426.8H544.5ZM547.5 421.0H549.5V422.7H547.5ZM550.5 419.9H552.5V421.3H550.5ZM568.4 423.8H570.4V432.3H568.4ZM571.4 421.3H573.4V423.8H571.4ZM580.4 428.4H582.4V429.4H580.4ZM589.4 426.8H591.4V430.2H589.4ZM619.3 440.3H621.3V447.2H619.3ZM622.3 438.9H624.3V440.6H622.3ZM643.2 443.5H645.2V445.2H643.2ZM646.2 442.5H648.2V443.5H646.2ZM652.2 442.9H654.2V445.2H652.2ZM658.2 442.5H660.2V447.0H658.2ZM661.2 436.3H663.2V442.5H661.2ZM664.2 434.2H666.2V436.6H664.2ZM667.2 424.6H669.2V434.6H667.2ZM670.2 420.9H672.2V425.6H670.2ZM694.1 431.1H696.1V434.9H694.1ZM697.1 429.7H699.1V431.5H697.1ZM703.1 431.9H705.1V433.5H703.1ZM706.1 431.5H708.1V432.5H706.1ZM718.1 443.5H720.1V446.6H718.1ZM727.0 443.2H729.0V444.8H727.0ZM733.0 445.7H735.0V448.4H733.0ZM736.0 445.2H738.0V446.2H736.0ZM754.0 454.7H756.0V462.0H754.0ZM766.0 460.7H768.0V471.3H766.0ZM771.9 459.8H773.9V461.2H771.9ZM783.9 463.0H785.9V464.8H783.9ZM786.9 459.3H788.9V463.7H786.9ZM789.9 455.2H791.9V458.9H789.9ZM795.9 458.2H797.9V459.8H795.9ZM804.9 461.2H806.9V462.3H804.9ZM807.9 460.8H809.9V461.8H807.9ZM822.8 460.7H824.8V467.5H822.8ZM831.8 464.0H833.8V465.8H831.8Z" fill="#089981"/>
<path d="M8.7 437.0H10.7V441.4H8.7ZM20.7 426.7H22.7V430.2H20.7ZM23.7 429.7H25.7V431.6H23.7ZM26.7 430.6H28.7V434.6H26.7ZM29.7 434.1H31.7V438.0H29.7ZM32.7 437.0H34.7V438.7H32.7ZM47.6 432.1H49.6V436.0H47.6ZM50.6 435.6H52.6V439.0H50.6ZM53.6 438.5H55.6V444.9H53.6ZM56.6 444.4H58.6V446.3H56.6ZM59.6 445.6H61.6V446.8H59.6ZM62.6 445.7H64.6V446.7H62.6ZM65.6 445.9H67.6V449.8H65.6ZM71.6 445.0H73.6V446.0H71.6ZM74.6 445.9H76.6V449.8H74.6ZM77.6 449.1H79.6V454.2H77.6ZM80.6 453.7H82.6V460.1H80.6ZM86.5 452.2H88.5V454.0H86.5ZM89.5 453.7H91.5V456.7H89.5ZM92.5 456.2H94.5V458.6H92.5ZM104.5 456.6H106.5V458.7H104.5ZM107.5 456.6H109.5V459.3H107.5ZM116.5 455.2H118.5V458.7H116.5ZM119.5 457.7H121.5V458.7H119.5ZM125.4 457.7H127.4V459.1H125.4ZM131.4 437.3H133.4V439.4H131.4ZM140.4 428.4H142.4V432.5H140.4ZM146.4 424.9H148.4V426.3H146.4ZM164.4 406.6H166.4V408.7H164.4ZM173.3 402.2H175.3V407.7H173.3ZM188.3 377.7H190.3V387.0H188.3ZM197.3 374.9H199.3V384.8H197.3ZM200.3 384.8H202.3V394.9H200.3ZM203.3 394.2H205.3V404.5H203.3ZM212.2 383.5H214.2V384.8H212.2ZM233.2 352.2H235.2V353.6H233.2ZM239.2 348.1H241.2V365.6H239.2ZM242.2 365.6H244.2V369.1H242.2ZM245.2 368.0H247.2V370.8H245.2ZM248.2 369.1H250.2V370.5H248.2ZM251.2 370.2H253.2V373.9H251.2ZM254.1 373.2H256.1V389.0H254.1ZM260.1 380.1H262.1V382.5H260.1ZM269.1 361.1H271.1V362.4H269.1ZM272.1 362.2H274.1V366.3H272.1ZM284.1 148.3H286.1V204.8H284.1ZM290.1 176.1H292.1V191.7H290.1ZM293.1 192.0H295.1V220.5H293.1ZM296.0 218.4H298.0V226.0H296.0ZM302.0 207.0H304.0V223.3H302.0ZM305.0 223.3H307.0V226.7H305.0ZM311.0 224.6H313.0V232.2H311.0ZM314.0 228.8H316.0V244.6H314.0ZM323.0 231.5H325.0V234.0H323.0ZM326.0 231.5H328.0V237.7H326.0ZM329.0 237.0H331.0V247.4H329.0ZM332.0 246.0H334.0V263.2H332.0ZM335.0 263.2H337.0V269.4H335.0ZM343.9 261.1H345.9V262.5H343.9ZM346.9 261.8H348.9V266.6H346.9ZM349.9 265.9H351.9V271.4H349.9ZM352.9 270.3H354.9V286.6H352.9ZM355.9 285.2H357.9V292.1H355.9ZM358.9 290.0H360.9V301.7H358.9ZM361.9 301.0H363.9V309.3H361.9ZM364.9 307.2H366.9V327.2H364.9ZM370.9 318.9H372.9V327.2H370.9ZM376.9 314.8H378.9V322.4H376.9ZM388.8 284.8H390.8V292.4H388.8ZM391.8 291.7H393.8V300.0H391.8ZM400.8 293.8H402.8V315.1H400.8ZM406.8 310.6H408.8V317.9H406.8ZM409.8 317.2H411.8V363.3H409.8ZM412.8 362.6H414.8V364.6H412.8ZM418.8 342.0H420.8V351.6H418.8ZM421.8 342.0H423.8V356.4H421.8ZM424.7 355.0H426.7V363.3H424.7ZM427.7 361.2H429.7V375.0H427.7ZM430.7 373.6H432.7V380.9H430.7ZM442.7 369.9H444.7V379.1H442.7ZM445.7 378.4H447.7V383.9H445.7ZM460.7 367.1H462.7V372.9H460.7ZM466.6 370.8H468.6V375.6H466.6ZM469.6 375.6H471.6V376.8H469.6ZM472.6 375.6H474.6V376.8H472.6ZM478.6 375.6H480.6V376.8H478.6ZM481.6 376.8H483.6V397.0H481.6ZM484.6 396.3H486.6V408.0H484.6ZM490.6 403.2H492.6V405.7H490.6ZM496.6 397.0H498.6V403.2H496.6ZM505.6 387.4H507.6V403.2H505.6ZM508.6 400.6H510.6V402.7H508.6ZM511.5 401.8H513.5V405.5H511.5ZM514.5 404.8H516.5V417.4H514.5ZM520.5 415.1H522.5V422.7H520.5ZM523.5 422.7H525.5V429.8H523.5ZM529.5 416.1H531.5V423.8H529.5ZM532.5 422.7H534.5V431.6H532.5ZM535.5 430.7H537.5V436.2H535.5ZM553.4 419.2H555.4V420.2H553.4ZM556.4 419.9H558.4V423.8H556.4ZM559.4 423.4H561.4V425.4H559.4ZM562.4 424.3H564.4V426.8H562.4ZM565.4 426.8H567.4V432.6H565.4ZM574.4 421.3H576.4V426.5H574.4ZM577.4 426.1H579.4V430.7H577.4ZM583.4 428.5H585.4V429.6H583.4ZM586.4 428.9H588.4V430.2H586.4ZM592.4 426.8H594.4V429.6H592.4ZM595.3 429.6H597.3V433.0H595.3ZM598.3 432.0H600.3V434.8H598.3ZM601.3 434.0H603.3V435.3H601.3ZM604.3 434.8H606.3V438.9H604.3ZM607.3 438.1H609.3V439.5H607.3ZM610.3 438.9H612.3V440.6H610.3ZM613.3 439.5H615.3V445.4H613.3ZM616.3 445.0H618.3V447.2H616.3ZM625.3 439.4H627.3V440.4H625.3ZM628.3 438.5H630.3V440.3H628.3ZM631.3 439.3H633.3V441.1H631.3ZM634.3 441.5H636.3V443.2H634.3ZM637.3 442.5H639.3V443.5H637.3ZM640.2 442.9H642.2V444.8H640.2ZM649.2 442.9H651.2V445.2H649.2ZM655.2 444.3H657.2V447.3H655.2ZM673.2 420.9H675.2V423.6H673.2ZM676.2 423.6H678.2V430.1H676.2ZM679.2 429.4H681.2V433.8H679.2ZM682.1 431.9H684.1V433.8H682.1ZM685.1 432.4H687.1V434.2H685.1ZM688.1 432.9H690.1V434.2H688.1ZM691.1 433.5H693.1V435.2H691.1ZM700.1 429.7H702.1V433.5H700.1ZM709.1 431.5H711.1V436.3H709.1ZM712.1 436.0H714.1V442.5H712.1ZM715.1 442.1H717.1V446.6H715.1ZM721.1 443.5H723.1V444.8H721.1ZM724.0 443.9H726.0V444.9H724.0ZM730.0 443.5H732.0V448.7H730.0ZM739.0 442.8H741.0V446.1H739.0ZM742.0 445.5H744.0V449.9H742.0ZM745.0 449.6H747.0V456.1H745.0ZM748.0 454.7H750.0V460.9H748.0ZM751.0 460.2H753.0V462.0H751.0ZM757.0 454.7H759.0V456.5H757.0ZM760.0 455.2H762.0V458.9H760.0ZM763.0 457.9H765.0V471.3H763.0ZM768.9 460.7H770.9V462.0H768.9ZM774.9 459.6H776.9V461.6H774.9ZM777.9 461.1H779.9V462.1H777.9ZM780.9 462.0H782.9V464.8H780.9ZM792.9 455.2H794.9V459.8H792.9ZM798.9 458.9H800.9V461.2H798.9ZM801.9 460.7H803.9V462.3H801.9ZM810.8 461.2H812.8V462.6H810.8ZM813.8 462.3H815.8V464.4H813.8ZM816.8 464.4H818.8V466.7H816.8ZM819.8 465.8H821.8V467.1H819.8ZM825.8 461.2H827.8V463.7H825.8ZM828.8 463.0H830.8V465.3H828.8ZM834.8 463.4H836.8V466.2H834.8ZM837.8 465.3H839.8V466.4H837.8Z" fill="#f23645"/>
<path d="M7.3 466.85H968" stroke="#f23645" stroke-opacity="0.4" stroke-width="1.9" stroke-dasharray="0.95 1.22" fill="none"/>
<text y="13.7" font-size="9.3" fill="#131722" stroke="#131722" stroke-width="0.28"><tspan x="7.9" textLength="58.9" lengthAdjust="spacingAndGlyphs">Yash_Jain_1309</tspan> <tspan x="69.9" textLength="28.9" lengthAdjust="spacingAndGlyphs">created</tspan> <tspan x="102.4" textLength="16.9" lengthAdjust="spacingAndGlyphs">with</tspan> <tspan x="122.4" textLength="66.3" lengthAdjust="spacingAndGlyphs">TradingView.com,</tspan> <tspan x="193.1" textLength="12.5" lengthAdjust="spacingAndGlyphs">Mar</tspan> <tspan x="209.9" textLength="11.6" lengthAdjust="spacingAndGlyphs">02,</tspan> <tspan x="224.6" textLength="16.6" lengthAdjust="spacingAndGlyphs">2026</tspan> <tspan x="245.9" textLength="19.35" lengthAdjust="spacingAndGlyphs">17:21</tspan> <tspan x="269.3" textLength="36.6" lengthAdjust="spacingAndGlyphs">UTC+5:30</tspan></text>
<text y="32.9" font-size="9.3" fill="#131722" stroke="#131722" stroke-width="0.28"><tspan x="13.0" textLength="30.7" lengthAdjust="spacingAndGlyphs">CROUSD</tspan> <tspan x="46.6" font-weight="bold">·</tspan> <tspan x="52.8" textLength="9.2" lengthAdjust="spacingAndGlyphs">1D</tspan> <tspan x="64.9" font-weight="bold">·</tspan> <tspan x="70.5" textLength="34.5" lengthAdjust="spacingAndGlyphs">Coinbase</tspan></text>
<text y="45.1" font-size="9.3" fill="#131722" stroke="#131722" stroke-width="0.28"><tspan x="13.1" textLength="15.6" lengthAdjust="spacingAndGlyphs">EMA</tspan> <tspan x="31.9" textLength="57.8" lengthAdjust="spacingAndGlyphs">20/50/100/200</tspan> <tspan x="95.5" textLength="30.3" lengthAdjust="spacingAndGlyphs">0.07768</tspan> <tspan x="131" textLength="30.3" lengthAdjust="spacingAndGlyphs" fill="#ab47bc" stroke="#ab47bc">0.08379</tspan> <tspan x="166.6" textLength="30.3" lengthAdjust="spacingAndGlyphs" fill="#26c6da" stroke="#26c6da">0.11117</tspan></text>
<text y="57.3" font-size="9.3" fill="#131722" stroke="#131722" stroke-width="0.28"><tspan x="13.1" textLength="11" lengthAdjust="spacingAndGlyphs">Vol</tspan> <tspan x="26.9" font-weight="bold">·</tspan> <tspan x="33.1" textLength="16" lengthAdjust="spacingAndGlyphs">CRO</tspan> <tspan x="54.1" textLength="16.8" lengthAdjust="spacingAndGlyphs" fill="#f23645" stroke="#f23645">4.01</tspan> <tspan x="71.9" textLength="6.9" lengthAdjust="spacingAndGlyphs" fill="#f23645" stroke="#f23645">M</tspan></text>
<text y="69.4" font-size="9.3" fill="#131722" stroke="#131722" stroke-width="0.28"><tspan x="13.0" textLength="42.3" lengthAdjust="spacingAndGlyphs">Watermark</tspan></text>
<rect x="971" y="22.6" width="43" height="18.2" rx="2.5" fill="#ffffff"/>
<text x="977" y="34.9" font-size="9.0" fill="#131722" textLength="15" lengthAdjust="spacingAndGlyphs" stroke="#131722" stroke-width="0.28">USD</text>
<text x="974.2" y="60.1" font-size="9.3" fill="#131722" textLength="30.2" lengthAdjust="spacingAndGlyphs" stroke="#131722" stroke-width="0.28">0.40000</text>
<text x="974.2" y="85.2" font-size="9.3" fill="#131722" textLength="30.2" lengthAdjust="spacingAndGlyphs" stroke="#131722" stroke-width="0.28">0.38000</text>
<text x="974.2" y="110.4" font-size="9.3" fill="#131722" textLength="30.2" lengthAdjust="spacingAndGlyphs" stroke="#131722" stroke-width="0.28">0.36000</text>
<text x="974.2" y="135.5" font-size="9.3" fill="#131722" textLength="30.2" lengthAdjust="spacingAndGlyphs" stroke="#131722" stroke-width="0.28">0.34000</text>
<text x="974.2" y="160.7" font-size="9.3" fill="#131722" textLength="30.2" lengthAdjust="spacingAndGlyphs" stroke="#131722" stroke-width="0.28">0.32000</text>
<text x="974.2" y="211.0" font-size="9.3" fill="#131722" textLength="30.2" lengthAdjust="spacingAndGlyphs" stroke="#131722" stroke-width="0.28">0.28000</text>
<text x="974.2" y="236.1" font-size="9.3" fill="#131722" textLength="30.2" lengthAdjust="spacingAndGlyphs" stroke="#131722" stroke-width="0.28">0.26000</text>
<text x="974.2" y="261.3" font-size="9.3" fill="#131722" textLength="30.2" lengthAdjust="spacingAndGlyphs" stroke="#131722" stroke-width="0.28">0.24000</text>
<text x="974.2" y="286.4" font-size="9.3" fill="#131722" textLength="30.2" lengthAdjust="spacingAndGlyphs" stroke="#131722" stroke-width="0.28">0.22000</text>
<text x="974.2" y="311.6" font-size="9.3" fill="#131722" textLength="30.2" lengthAdjust="spacingAndGlyphs" stroke="#131722" stroke-width="0.28">0.20000</text>
<text x="974.2" y="336.7" font-size="9.3" fill="#131722" textLength="30.2" lengthAdjust="spacingAndGlyphs" stroke="#131722" stroke-width="0.28">0.18000</text>
<text x="974.2" y="361.8" font-size="9.3" fill="#131722" textLength="30.2" lengthAdjust="spacingAndGlyphs" stroke="#131722" stroke-width="0.28">0.16000</text>
<text x="974.2" y="387.0" font-size="9.3" fill="#131722" textLength="30.2" lengthAdjust="spacingAndGlyphs" stroke="#131722" stroke-width="0.28">0.14000</text>
<text x="974.2" y="412.1" font-size="9.3" fill="#131722" textLength="30.2" lengthAdjust="spacingAndGlyphs" stroke="#131722" stroke-width="0.28">0.12000</text>
<text x="974.2" y="437.3" font-size="9.3" fill="#131722" textLength="30.2" lengthAdjust="spacingAndGlyphs" stroke="#131722" stroke-width="0.28">0.10000</text>
<text x="974.2" y="487.6" font-size="9.3" fill="#131722" textLength="30.2" lengthAdjust="spacingAndGlyphs" stroke="#131722" stroke-width="0.28">0.06000</text>
<text x="1004.9" y="513.4" font-size="9.3" fill="#131722" text-anchor="end" stroke="#131722" stroke-width="0.28">0</text>
<rect x="968.6" y="174.2" width="40.2" height="12.0" rx="1" fill="#ff9800"/>
<text x="974.2" y="183.0" font-size="9.3" fill="#131722" textLength="30.2" lengthAdjust="spacingAndGlyphs" stroke="#131722" stroke-width="0.28">0.30205</text>
<rect x="968.6" y="415.0" width="40.2" height="11.6" rx="1" fill="#26c6da"/>
<text x="974.2" y="423.6" font-size="9.3" fill="#000000" textLength="30.2" lengthAdjust="spacingAndGlyphs" stroke="#000000" stroke-width="0.28">0.11117</text>
<rect x="968.6" y="436.4" width="40.2" height="12.2" rx="1" fill="#9c27b0"/>
<text x="974.2" y="445.3" font-size="9.3" fill="#ffffff" textLength="30.2" lengthAdjust="spacingAndGlyphs" stroke="#ffffff" stroke-width="0.28">0.08379</text>
<rect x="968.6" y="448.6" width="40.2" height="12.2" rx="1" fill="#000000"/>
<text x="974.2" y="457.5" font-size="9.3" fill="#ffffff" textLength="30.2" lengthAdjust="spacingAndGlyphs" stroke="#ffffff" stroke-width="0.28">0.07768</text>
<rect x="968.6" y="460.8" width="40.2" height="12.0" rx="1" fill="#f23645"/>
<text x="974.2" y="469.6" font-size="9.3" fill="#ffffff" textLength="30.2" lengthAdjust="spacingAndGlyphs" stroke="#ffffff" stroke-width="0.28">0.07456</text>
<rect x="968.6" y="506.0" width="33.2" height="11.6" rx="1" fill="#f0535f"/>
<text x="974.2" y="514.6" font-size="9.3" fill="#ffffff" textLength="24.5" lengthAdjust="spacingAndGlyphs" stroke="#ffffff" stroke-width="0.28">4.01 M</text>
<text x="18.7" y="530.6" font-size="9.3" fill="#131722" text-anchor="middle" stroke="#131722" stroke-width="0.28">Jun</text>
<text x="108.5" y="530.6" font-size="9.3" fill="#131722" text-anchor="middle" stroke="#131722" stroke-width="0.28">Jul</text>
<text x="201.3" y="530.6" font-size="9.3" fill="#131722" text-anchor="middle" stroke="#131722" stroke-width="0.28">Aug</text>
<text x="294.1" y="530.6" font-size="9.3" fill="#131722" text-anchor="middle" stroke="#131722" stroke-width="0.28">Sep</text>
<text x="383.8" y="530.6" font-size="9.3" fill="#131722" text-anchor="middle" stroke="#131722" stroke-width="0.28">Oct</text>
<text x="476.6" y="530.6" font-size="9.3" fill="#131722" text-anchor="middle" stroke="#131722" stroke-width="0.28">Nov</text>
<text x="566.4" y="530.6" font-size="9.3" fill="#131722" text-anchor="middle" stroke="#131722" stroke-width="0.28">Dec</text>
<text x="659.2" y="530.6" font-size="9.3" fill="#131722" text-anchor="middle" font-weight="bold" stroke="#131722" stroke-width="0.28">2026</text>
<text x="752.0" y="530.6" font-size="9.3" fill="#131722" text-anchor="middle" stroke="#131722" stroke-width="0.28">Feb</text>
<text x="835.8" y="530.6" font-size="9.3" fill="#131722" text-anchor="middle" stroke="#131722" stroke-width="0.28">Mar</text>
<text x="928.6" y="530.6" font-size="9.3" fill="#131722" text-anchor="middle" stroke="#131722" stroke-width="0.28">Apr</text>
<rect x="14" y="481" width="171" height="29" fill="#ffffff" fill-opacity="0.5"/>
<path d="M50 502.8 C46.5 500.2 42.5 497.6 42.5 493.8 C42.5 491.2 44.4 489.4 46.6 489.4 C48.1 489.4 49.4 490.2 50 491.5 C50.6 490.2 51.9 489.4 53.4 489.4 C55.6 489.4 57.5 491.2 57.5 493.8 C57.5 497.6 53.5 500.2 50 502.8Z" fill="#58cf47" stroke="#2c4a2c" stroke-width="1"/><path d="M45.2 493.2 C45.4 495.5 46.8 497.3 48.6 498.6" stroke="#a6ef98" stroke-width="0.9" fill="none" stroke-linecap="round"/>
<text x="60.5" y="500.8" font-size="14.5" fill="#a04a56" fill-opacity="0.92" stroke="#a04a56" stroke-opacity="0.9" stroke-width="0.3" textLength="99" lengthAdjust="spacingAndGlyphs">Yash_Jain_1309</text>
<g fill="#131722"><path d="M8.75 553.75H17.1V564H12.75V557.75H8.75Z"/><circle cx="19.9" cy="555.6" r="1.8"/><path d="M23.2 553.75H29.6L25.4 564H19.9Z"/></g>
<text x="35.9" y="564.1" font-size="15.2" font-weight="bold" fill="#131722" textLength="86.2" lengthAdjust="spacingAndGlyphs">TradingView</text>
</svg>
</body></html>
